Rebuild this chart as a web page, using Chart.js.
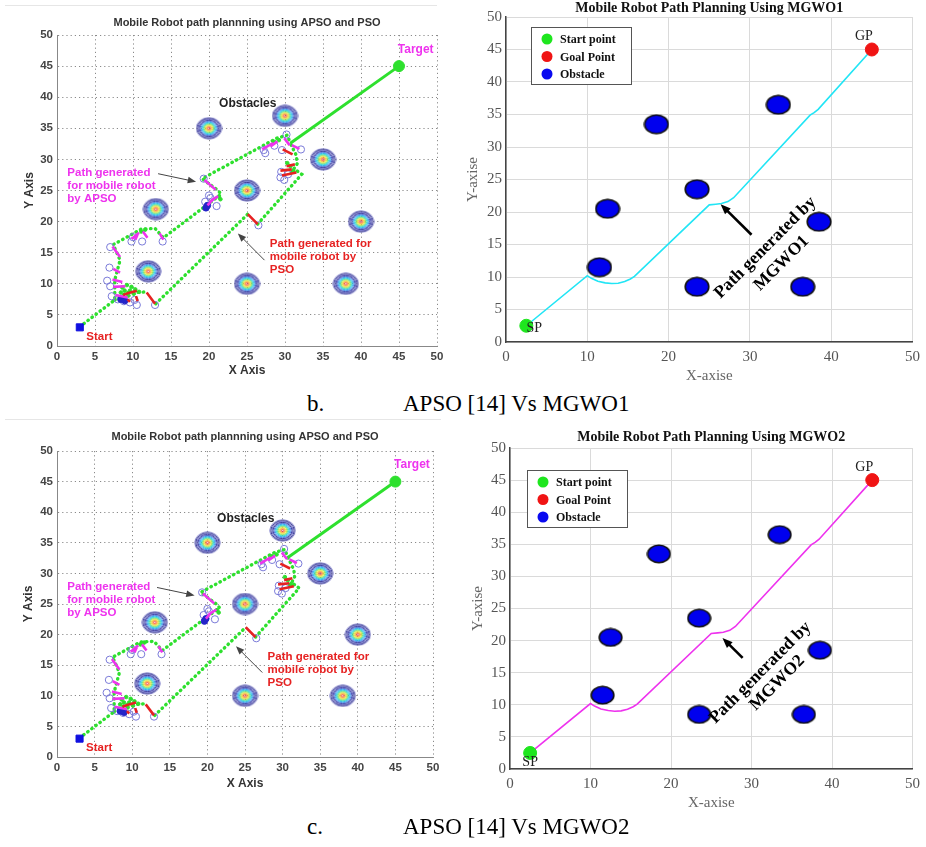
<!DOCTYPE html>
<html>
<head>
<meta charset="utf-8">
<script src="https://cdn.jsdelivr.net/npm/chart.js@4.4.1/dist/chart.umd.min.js"></script>
<style>
  body { margin: 0; background: #fff; width: 926px; height: 847px; position: relative; overflow: hidden; }
  .panel { position: absolute; }
  .cap { position: absolute; font-family: "Liberation Serif", serif; font-size: 23px; color: #000; white-space: pre; }
  .rule { position: absolute; height: 1px; background: #e6e6e6; }
</style>
</head>
<body>
<div class="rule" style="left:5px;top:5px;width:432px"></div>
<div class="rule" style="left:5px;top:419px;width:436px"></div>

<div class="panel" style="left:0;top:0;width:460px;height:390px"><canvas id="apso1"></canvas></div>
<div class="panel" style="left:460px;top:0;width:466px;height:390px"><canvas id="mgwo1"></canvas></div>
<div class="panel" style="left:0;top:420px;width:460px;height:385px"><canvas id="apso2"></canvas></div>
<div class="panel" style="left:460px;top:420px;width:466px;height:400px"><canvas id="mgwo2"></canvas></div>

<div class="cap" style="left:307px;top:391px">b.</div>
<div class="cap" style="left:403px;top:391px">APSO [14] Vs MGWO1</div>
<div class="cap" style="left:307px;top:814px">c.</div>
<div class="cap" style="left:403px;top:814px">APSO [14] Vs MGWO2</div>

<script>
// ---- APSO / PSO panels (left) ----
const apsoStart = [[3, 3]];
const apsoTarget = [[45, 45]];
const apsoObstacles = [[20, 35], [30, 37], [35, 30], [25, 25], [13, 22], [40, 20], [12, 12], [25, 10], [38, 10]];
const apsoPath = [[3, 3.1], [7.6, 7.4], [7.6, 10.6], [8.3, 13.8], [7.4, 16.3], [11.1, 18.8], [12.9, 18.9], [14, 17.4],
  [21.6, 24.4], [21.2, 25], [19.1, 26.9], [28.9, 33.4], [30.3, 33.9], [30.7, 32.6]];
const psoPathParts = [
  [[7.6, 7.4], [9.2, 8.6], [10.4, 8.6], [11.8, 8.7]],
  [[13, 6.8], [25.1, 21.2]],
  [[26.4, 19.6], [32.2, 27.6], [31.2, 28.5], [30.8, 27.8], [31.6, 29.3], [31.5, 30.6], [30.7, 32.6]]
];
const finalLeg = [[30.7, 32.6], [45, 45]];
const swarm = [[8.6, 9.4], [9.2, 9.8], [9.8, 9.5], [10.3, 9.1], [8.9, 8.9], [9.6, 8.9], [10.1, 8.4], [8.4, 8.6],
  [9.4, 8.1], [10.8, 8.7], [11.1, 18.4], [11.6, 18.7], [21.3, 24], [21.5, 23.6], [30.7, 28.9], [31.1, 28.1],
  [30.3, 29.4], [29.2, 33.1], [28.6, 32.8]];
const apsoMoves = [[7.3, 16, 8.3, 14.3], [7.4, 12.4, 8.3, 11.8], [7.3, 10.7, 8.6, 10.3], [7.4, 9.5, 9, 9.6],
  [7.7, 8.2, 9.3, 7.8], [9.8, 17.2, 10.8, 18.2], [10.3, 17.1, 10.6, 17.9], [11.3, 18.4, 11.9, 17.4],
  [13.5, 18.1, 14, 17.1], [19.4, 26.7, 20.9, 25.1], [20.1, 23.2, 21.2, 24.1], [19.8, 22.6, 20.6, 23.7],
  [27, 31.6, 28.4, 32.6], [28.1, 32.1, 29, 32.9], [29.9, 33.4, 30.6, 32.3], [30.9, 32.3, 31.9, 31.7]];
const psoMoves = [[11.8, 8.6, 12.9, 6.8], [25.1, 21.2, 26.4, 19.6], [29.7, 31.6, 31, 30.8], [29.4, 28.2, 30.9, 28.4],
  [29.6, 27.4, 31.5, 27.9], [30.2, 28.9, 31.3, 29.2], [9.1, 8.4, 10.5, 8.9], [10.4, 8, 10.6, 7.2],
  [9.3, 7.5, 9.6, 7.1], [8.7, 8.2, 9.6, 8.6]];
const probes = [[7, 15.9], [6.9, 12.6], [6.6, 10.5], [7, 9.6], [7.2, 8], [8, 7.5], [8.8, 7.2], [9.6, 7], [10.5, 6.6],
  [12.9, 6.6], [9.8, 16.8], [11.2, 16.8], [13.9, 16.8], [10, 17.5], [19.3, 26.9], [19.5, 23.2], [20.2, 23.8],
  [21, 22.5], [20, 24.2], [26.5, 19.4], [27.2, 31.5], [27.4, 31], [28.6, 32.2], [29.6, 31.5], [30.2, 34],
  [32.1, 31.6], [29.5, 28], [29.4, 27.1], [29.9, 26.7], [30.4, 27.6], [10.2, 7.4]];
const bestSpots = [[19.6, 22.2], [8.4, 7.5], [19.8, 22.6], [8.9, 7.3]];

// ---- MGWO panels (right) ----
const mgwoStart = [[2.5, 2.5]];
const mgwoGoal = [[45, 45]];
const mgwoObstacles = [[11.5, 11.5], [12.5, 20.5], [18.5, 33.5], [23.5, 23.5], [23.5, 8.5], [33.5, 36.5], [38.5, 18.5], [36.5, 8.5]];
const mgwoPath = [[2.5, 2.5], [10, 10.2], [10.5, 9.8], [11.3, 9.35], [12.2, 9.1], [13, 9.0], [13.8, 9.05], [14.6, 9.3],
  [15.3, 9.7], [15.8, 10.1], [25, 21.1], [25.8, 21.2], [26.5, 21.3], [27.3, 21.6], [28, 22.2], [37.4, 34.9],
  [37.9, 35.3], [38.4, 35.8], [45, 45]];

const pts = a => a.map(([x, y]) => ({ x, y }));
const segs = a => a.flatMap(([x1, y1, x2, y2]) => [{ x: x1, y: y1 }, { x: x2, y: y2 }, { x: x2, y: null }]);
const withGaps = parts => parts.flatMap((p, i) => i ? [{ x: p[0][0], y: null }, ...pts(p)] : pts(p));

function contourImage(w, h) {
  const c = document.createElement('canvas');
  c.width = w; c.height = h;
  const g = c.getContext('2d');
  const rings = ['#7a7ac8', '#3c3c8c', '#6a6ad0', '#2c2c90', '#5a7ae0', '#30a8f0', '#28d0e0', '#40e0a0',
    '#a8e040', '#f0e030', '#ff9a30', '#f04040'];
  rings.forEach((col, i) => {
    const rx = w / 2 - 0.8 - i * 1.05, ry = h / 2 - 0.8 - i * 0.88;
    if (rx <= 0.5 || ry <= 0.5) return;
    g.beginPath();
    g.ellipse(w / 2, h / 2, rx, ry, 0, 0, Math.PI * 2);
    g.strokeStyle = col; g.lineWidth = 1; g.stroke();
  });
  return c;
}

function blobImage(w, h) {
  const c = document.createElement('canvas');
  c.width = w; c.height = h;
  const g = c.getContext('2d');
  g.beginPath();
  g.ellipse(w / 2, h / 2, w / 2 - 1.2, h / 2 - 1.2, 0, 0, Math.PI * 2);
  g.fillStyle = '#0000ee'; g.fill();
  g.strokeStyle = '#111'; g.lineWidth = 1.6; g.stroke();
  return c;
}

// text + arrows placed in data units
const notesPlugin = {
  id: 'notes',
  afterDatasetsDraw(chart, args, opts) {
    const { ctx, scales: { x, y } } = chart;
    (opts.items || []).forEach(it => {
      ctx.save();
      if (it.arrow) {
        const [x1, y1, x2, y2] = it.arrow;
        const ax = x.getPixelForValue(x1), ay = y.getPixelForValue(y1);
        const bx = x.getPixelForValue(x2), by = y.getPixelForValue(y2);
        const ang = Math.atan2(by - ay, bx - ax), hd = it.head;
        ctx.strokeStyle = it.color; ctx.fillStyle = it.color; ctx.lineWidth = it.width;
        ctx.beginPath();
        ctx.moveTo(ax, ay);
        ctx.lineTo(bx - Math.cos(ang) * hd * 0.7, by - Math.sin(ang) * hd * 0.7);
        ctx.stroke();
        ctx.beginPath();
        ctx.moveTo(bx, by);
        ctx.lineTo(bx - hd * Math.cos(ang - 0.38), by - hd * Math.sin(ang - 0.38));
        ctx.lineTo(bx - hd * Math.cos(ang + 0.38), by - hd * Math.sin(ang + 0.38));
        ctx.closePath();
        ctx.fill();
      } else {
        ctx.translate(x.getPixelForValue(it.x) + (it.dx || 0), y.getPixelForValue(it.y) + (it.dy || 0));
        ctx.rotate(it.rot || 0);
        ctx.font = it.font; ctx.fillStyle = it.color;
        ctx.textAlign = it.align || 'center'; ctx.textBaseline = 'middle';
        [].concat(it.text).forEach((t, i) => ctx.fillText(t, 0, i * (it.lh || 0)));
      }
      ctx.restore();
    });
  }
};

// boxed legend inside the plot area
const boxLegend = {
  id: 'boxLegend',
  afterDraw(chart, args, o) {
    if (!o.show) return;
    const { ctx, chartArea } = chart;
    const bx = chartArea.left + o.dx, by = chartArea.top + o.dy;
    ctx.save();
    ctx.fillStyle = '#fff'; ctx.fillRect(bx, by, 100, 57);
    ctx.strokeStyle = '#555'; ctx.lineWidth = 1; ctx.strokeRect(bx + 0.5, by + 0.5, 100, 57);
    ctx.font = 'bold 12px "Liberation Serif"'; ctx.textBaseline = 'middle';
    chart.data.datasets.filter(d => d.legendText).forEach((d, i) => {
      const ry = by + 12 + i * 17.5;
      ctx.beginPath(); ctx.arc(bx + 16, ry, 5.5, 0, Math.PI * 2);
      ctx.fillStyle = d.legendColor; ctx.fill();
      ctx.fillStyle = '#111'; ctx.fillText(d.legendText, bx + 29, ry + 1);
    });
    ctx.restore();
  }
};

const green = '#2ee02e', magenta = '#ee33ee', red = '#e62222';
const labelFont = 'bold 11.5px "Liberation Sans"';

const apsoNotes = [
  { x: 47.2, y: 47.7, text: 'Target', color: magenta, font: 'bold 12px "Liberation Sans"' },
  { x: 25.1, y: 38.9, text: 'Obstacles', color: '#222', font: 'bold 12px "Liberation Sans"' },
  { x: 1.36, y: 27.8, text: ['Path generated', 'for mobile robot', 'by APSO'], lh: 13, align: 'left', color: magenta, font: labelFont },
  { x: 28, y: 16.4, text: ['Path generated for', 'mobile robot by', 'PSO'], lh: 13, align: 'left', color: red, font: labelFont },
  { x: 3.86, y: 1.45, text: 'Start', align: 'left', color: red, font: labelFont },
  { arrow: [13.3, 27.7, 18.3, 26.4], color: '#444', width: 1, head: 9 },
  { arrow: [27.3, 13.8, 23.8, 18.1], color: '#444', width: 1, head: 9 }
];

function apsoChart(id, geo) {
  const tickFont = { family: '"Liberation Sans"', size: 11.5, weight: 'bold' };
  const axisTitle = { family: '"Liberation Sans"', size: 12, weight: 'bold' };
  return new Chart(document.getElementById(id), {
    type: 'scatter',
    data: {
      datasets: [
        { data: pts(apsoStart), pointStyle: 'rect', pointRadius: 5, backgroundColor: '#1010e0', borderColor: '#1010e0' },
        { data: pts(apsoTarget), pointRadius: 5.5, backgroundColor: green, borderColor: green },
        { data: segs(psoMoves), showLine: true, pointRadius: 0, borderColor: red, borderWidth: 2.6 },
        { data: segs(apsoMoves), showLine: true, pointRadius: 0, borderColor: magenta, borderWidth: 2.6 },
        { data: pts(bestSpots), pointRadius: 3.2, backgroundColor: '#2424c8', borderColor: '#2424c8' },
        { data: pts(swarm), pointRadius: 1.8, backgroundColor: green, borderColor: green },
        { data: pts(probes), pointRadius: 3.6, backgroundColor: 'rgba(0,0,0,0)', borderColor: '#7a7ad8', borderWidth: 1 },
        { data: pts(apsoPath), showLine: true, pointRadius: 0, borderColor: green, borderWidth: 3.4,
          borderDash: [0.5, 4.6], borderCapStyle: 'round' },
        { data: withGaps(psoPathParts), showLine: true, pointRadius: 0, borderColor: green, borderWidth: 3.4,
          borderDash: [0.5, 4.6], borderCapStyle: 'round' },
        { data: pts(finalLeg), showLine: true, pointRadius: 0, borderColor: green, borderWidth: 3 },
        { data: pts(apsoObstacles), pointStyle: geo.contour, pointRadius: 12 }
      ]
    },
    options: {
      animation: false, responsive: true, maintainAspectRatio: false, events: [],
      layout: { padding: { left: 0, right: geo.padR, top: 0, bottom: 0 } },
      plugins: {
        legend: { display: false }, tooltip: { enabled: false },
        title: { display: true, fullSize: false, text: 'Mobile Robot path plannning using APSO and PSO', color: '#333',
          font: { family: '"Liberation Sans"', size: 11, weight: 'bold' }, padding: { top: geo.tTop, bottom: geo.tBot } },
        notes: { items: apsoNotes }
      },
      scales: {
        x: {
          min: 0, max: 50,
          ticks: { stepSize: 5, font: tickFont, color: '#444', padding: 4, maxRotation: 0 },
          grid: { color: '#8a8a8a', drawTicks: false },
          border: { color: '#888', dash: [1.2, 3] },
          title: { display: true, text: 'X Axis', font: axisTitle, color: '#333', padding: { top: 0, bottom: geo.xtPad } },
          afterFit: s => { s.height = geo.xH; }
        },
        y: {
          min: 0, max: 50,
          ticks: { stepSize: 5, font: tickFont, color: '#444', padding: 4 },
          grid: { color: '#8a8a8a', drawTicks: false },
          border: { color: '#888', dash: [1.2, 3] },
          title: { display: true, text: 'Y Axis', font: axisTitle, color: '#333', padding: { top: geo.ytPad, bottom: 0 } },
          afterFit: s => { s.width = 57; }
        }
      }
    },
    plugins: [notesPlugin]
  });
}

function mgwoChart(id, geo) {
  const serif = '"Liberation Serif"';
  const tickFont = { family: serif, size: 15 };
  const axisTitle = { family: serif, size: 15 };
  return new Chart(document.getElementById(id), {
    type: 'scatter',
    data: {
      datasets: [
        { data: pts(mgwoStart), pointRadius: 6.5, backgroundColor: '#1ee61e', borderColor: '#1ee61e',
          legendText: 'Start point', legendColor: '#1ee61e' },
        { data: pts(mgwoGoal), pointRadius: 6.5, backgroundColor: '#f01414', borderColor: '#f01414',
          legendText: 'Goal Point', legendColor: '#f01414' },
        { data: pts(mgwoObstacles), pointStyle: geo.blob, pointRadius: 12,
          legendText: 'Obstacle', legendColor: '#0a0af0' },
        { data: pts(mgwoPath), showLine: true, pointRadius: 0, borderColor: geo.pathColor, borderWidth: 1.6 }
      ]
    },
    options: {
      animation: false, responsive: true, maintainAspectRatio: false, events: [],
      layout: { padding: { left: 0, right: 9, top: 0, bottom: 0 } },
      plugins: {
        legend: { display: false }, tooltip: { enabled: false },
        title: { display: true, fullSize: false, text: geo.title, color: '#111',
          font: { family: serif, size: 14, weight: 'bold' }, padding: { top: geo.tTop, bottom: geo.tBot } },
        boxLegend: { show: true, dx: geo.legDx, dy: geo.legDy },
        notes: {
          items: [
            { x: 45, y: 45, dx: -8, dy: -13, text: 'GP', color: '#222', font: '14px ' + serif },
            { x: 2.5, y: 2.5, dx: geo.spDx, dy: geo.spDy, text: 'SP', color: '#222', font: '14px ' + serif },
            { arrow: geo.arrow, color: '#000', width: 2.6, head: 11 },
            { x: geo.t1[0], y: geo.t1[1], rot: -Math.PI / 4, text: 'Path generated by', color: '#000', font: 'bold 17.5px ' + serif },
            { x: geo.t2[0], y: geo.t2[1], rot: -Math.PI / 4, text: geo.tag, color: '#000', font: 'bold 17.5px ' + serif }
          ]
        }
      },
      scales: {
        x: {
          min: 0, max: 50,
          ticks: { stepSize: 10, font: tickFont, color: '#555', padding: 6, maxRotation: 0 },
          grid: { color: '#dadada', drawTicks: false },
          border: { color: '#444', width: 1.5 },
          title: { display: true, text: 'X-axise', font: axisTitle, color: '#666', padding: { top: 0, bottom: geo.xtPad } },
          afterFit: s => { s.height = geo.xH; }
        },
        y: {
          min: 0, max: 50,
          ticks: { stepSize: 5, font: tickFont, color: '#555', padding: 4 },
          grid: { color: '#dadada', drawTicks: false },
          border: { color: '#444', width: 1.5 },
          title: { display: true, text: 'Y-axise', font: axisTitle, color: '#666', padding: { top: geo.ytPad, bottom: 0 } },
          afterFit: s => { s.width = geo.yW; }
        }
      }
    },
    plugins: [notesPlugin, boxLegend]
  });
}

const contour = contourImage(27, 23);
apsoChart('apso1', { contour, padR: 23, tTop: 16.4, tBot: 5.4, xH: 44, xtPad: 12, ytPad: 22 });
apsoChart('apso2', { contour, padR: 27, tTop: 10.4, tBot: 7.4, xH: 48, xtPad: 14, ytPad: 21 });

mgwoChart('mgwo1', {
  title: 'Mobile Robot Path Planning Using MGWO1', tag: 'MGWO1', pathColor: '#22e5f5', blob: blobImage(26, 21),
  tTop: 0, tBot: 0.2, xH: 48, xtPad: 5, yW: 46, ytPad: 4, legDx: 25, legDy: 10, spDx: 8, spDy: 3,
  arrow: [30.2, 16.5, 26.4, 21.2], t1: [31.9, 14.5], t2: [33.9, 12.1]
});
mgwoChart('mgwo2', {
  title: 'Mobile Robot Path Planning Using MGWO2', tag: 'MGWO2', pathColor: '#ee33ee', blob: blobImage(25, 20),
  tTop: 8.6, tBot: 2.6, xH: 51, xtPad: 8, yW: 50, ytPad: 9, legDx: 17, legDy: 22, spDx: 0, spDy: 9,
  arrow: [28.9, 17.3, 26.4, 20.4], t1: [31.1, 15], t2: [33.2, 13.4]
});
</script>
</body>
</html>
